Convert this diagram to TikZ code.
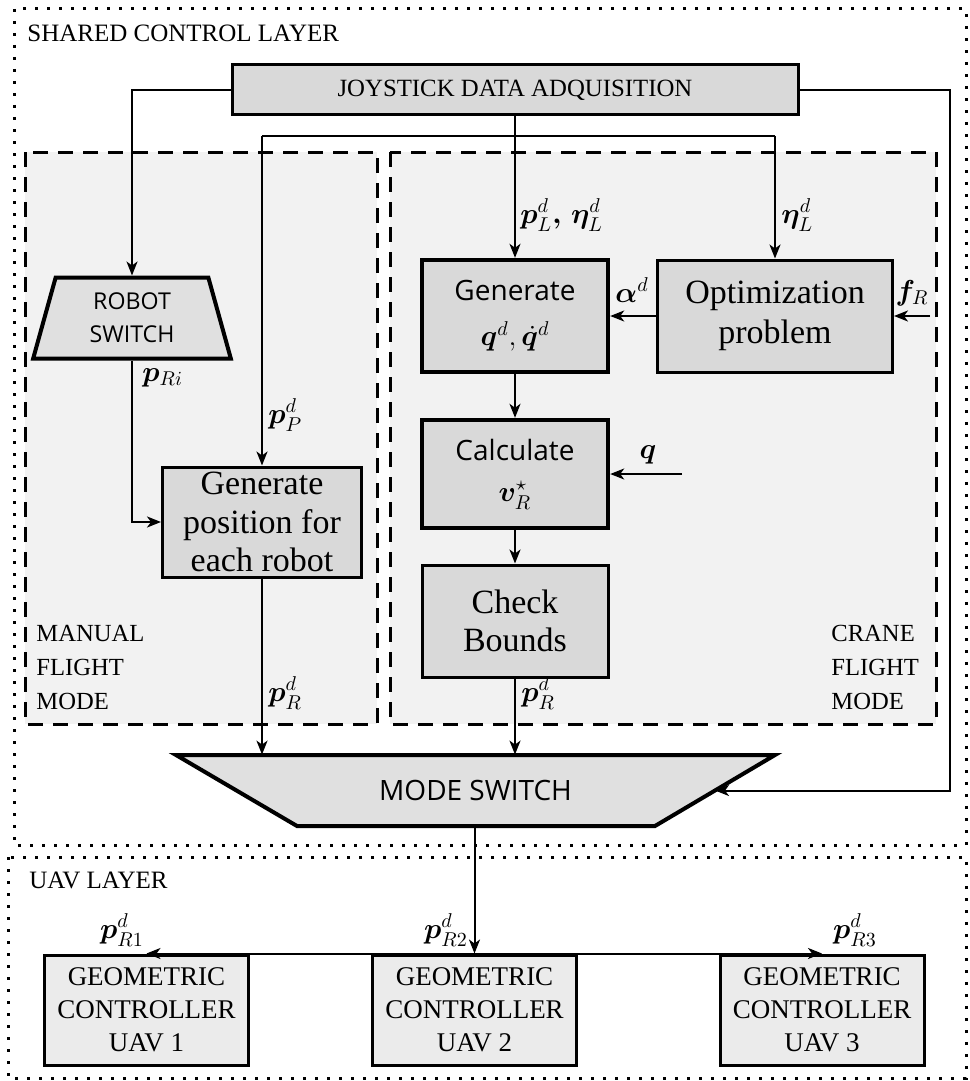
\documentclass[tikz,border=0pt]{standalone}
\usepackage{fontspec}
\setmainfont{Liberation Serif}
\setsansfont{Open Sans}
\usepackage{amsmath}
\usepackage{bm}
\usetikzlibrary{shapes.geometric,arrows.meta,positioning}

\tikzstyle{layerbox}=[draw,line width=1.5pt,dash pattern=on 1.5pt off 4.5pt]
\tikzstyle{layertext}=[font=\fontsize{12.5}{15}\selectfont,inner sep=0pt]
\tikzstyle{modearea}=[draw,fill=black!5,line width=1.5pt,dash pattern=on 7.5pt off 5pt]
\tikzstyle{modetext}=[font=\fontsize{12.3}{17}\selectfont,align=left,inner sep=0pt]
\tikzstyle{block}=[rectangle,draw,fill=black!15,line width=1.5pt,align=center,inner sep=0pt]
\tikzstyle{thickblock}=[block,line width=2.2pt,font=\sffamily\fontsize{14}{20.5}\selectfont,minimum width=93pt]
\tikzstyle{serifblock}=[block,font=\fontsize{17}{19.3}\selectfont]
\tikzstyle{uavblock}=[block,fill=black!8,font=\fontsize{13.5}{16.5}\selectfont,minimum width=102pt,minimum height=55pt]
\tikzstyle{switchbox}=[trapezium,draw,fill=black!12,line width=2pt,align=center,inner sep=0pt]
\tikzstyle{switchpoly}=[draw,fill=black!12,line width=2pt,line join=miter]
\tikzstyle{lbl}=[font=\fontsize{14}{16}\selectfont,inner sep=1pt]
\tikzstyle{flow}=[line width=1pt,-{Stealth[length=7pt,width=5.5pt,inset=2pt]}]

\begin{document}
\begin{tikzpicture}[x=0.5pt,y=-0.5pt]
    \useasboundingbox (0,0) rectangle (969,1081);
    %Layers
    \draw[layerbox] (14,9) rectangle (966,845);
    \draw[layerbox] (8,857) rectangle (966,1078);
    \node[layertext,anchor=west] (shared) at (27,33) {SHARED CONTROL LAYER};
    \node[layertext,anchor=west] (uavlayer) at (29,880) {UAV LAYER};
    %Flight modes
    \draw[modearea] (25,152) rectangle (377,724);
    \draw[modearea] (390,152) rectangle (936,724);
    \node[modetext,anchor=west] (manual) at (36,667) {MANUAL\\FLIGHT\\MODE};
    \node[modetext,anchor=west] (crane) at (831,667) {CRANE\\FLIGHT\\MODE};
    %Blocks
    \node[block,font=\fontsize{12.4}{15}\selectfont,minimum width=283pt,minimum height=25pt] (joy) at (515,90) {JOYSTICK DATA ADQUISITION};
    \node[switchbox,trapezium stretches=true,trapezium angle=76,minimum width=99pt,minimum height=40.5pt,font=\sffamily\fontsize{11.6}{16.5}\selectfont] (robot) at (132,318) {ROBOT\\SWITCH};
    \node[serifblock,minimum width=99.5pt,minimum height=55pt] (genpos) at (262,522) {Generate\\position for\\each robot};
    \node[thickblock,minimum height=56pt] (gen) at (515,316) {Generate\\[2pt]$\bm{q}^d,\dot{\bm{q}}^d$};
    \node[serifblock,font=\fontsize{17}{20}\selectfont,minimum width=117.5pt,minimum height=56pt] (opt) at (775,316) {Optimization\\problem};
    \node[thickblock,minimum height=54pt] (calc) at (515,474) {Calculate\\$\bm{v}^{\star}_R$};
    \node[serifblock,minimum width=93pt,minimum height=56pt] (check) at (515,621) {Check\\Bounds};
    %Mode switch (inverted trapezium)
    \draw[switchpoly] (176,755) -- (775,755) -- (655,826) -- (297,826) -- cycle;
    \node[inner sep=0pt,minimum width=299.5pt,minimum height=35.5pt,font=\sffamily\fontsize{14}{16}\selectfont] (mode) at (475.5,790.5) {MODE SWITCH};
    \coordinate (modeR) at (715,790.5);
    \foreach \pos/\name/\num in {{(146.5,1010)/uav1/1}, {(474.5,1010)/uav2/2}, {(822,1010)/uav3/3}}
    \node[uavblock] (\name) at \pos {GEOMETRIC\\CONTROLLER\\UAV \num};
    %Labels
    \node[lbl,anchor=west] (pLd) at (518,215) {$\bm{p}^d_L\bm{,}\,\bm{\eta}^d_L$};
    \node[lbl,anchor=west] (etaLd) at (779,215) {$\bm{\eta}^d_L$};
    \node[lbl] (alphad) at (632,290) {$\bm{\alpha}^d$};
    \node[lbl] (fR) at (912,293) {$\bm{f}_R$};
    \node[lbl] (qlbl) at (648,455) {$\bm{q}$};
    \node[lbl,anchor=west] (pRi) at (140,378) {$\bm{p}_{Ri}$};
    \node[lbl,anchor=west] (pPd) at (266,415) {$\bm{p}^d_P$};
    \node[lbl,anchor=west] (pRdL) at (266,693) {$\bm{p}^d_R$};
    \node[lbl,anchor=west] (pRdC) at (519,693) {$\bm{p}^d_R$};
    \node[lbl] (pR1) at (122,930) {$\bm{p}^d_{R1}$};
    \node[lbl] (pR2) at (446,930) {$\bm{p}^d_{R2}$};
    \node[lbl] (pR3) at (855,930) {$\bm{p}^d_{R3}$};
    %Connectors
    \coordinate (splitL) at (262,136);
    \coordinate (splitR) at (775,136);
    \coordinate (rturn) at (950,90);
    \coordinate (fRin) at (930,316);
    \coordinate (qin) at (682,474);
    \draw[flow] (joy.west) -| (robot.north);
    \draw[flow] (joy.south) -- (gen.north);
    \draw[line width=1pt] (splitL) -- (splitR);
    \draw[flow] (splitL) -- (genpos.north);
    \draw[flow] (splitR) -- (opt.north);
    \draw[flow] (joy.east) -- (rturn) |- (modeR);
    \draw[flow] (opt.west) -- (gen.east);
    \draw[flow] (fRin) -- (opt.east);
    \draw[flow] (gen.south) -- (calc.north);
    \draw[flow] (qin) -- (calc.east);
    \draw[flow] (calc.south) -- (check.north);
    \draw[flow] (check.south) -- (check.south |- mode.north);
    \draw[flow] (robot.south) |- (genpos.west);
    \draw[flow] (genpos.south) -- (genpos.south |- mode.north);
    \draw[flow] (mode.south -| uav2.north) -- (uav2.north);
    \draw[flow] (uav2.north) -- (uav1.north);
    \draw[flow] (uav2.north) -- (uav3.north);
\end{tikzpicture}
\end{document}
